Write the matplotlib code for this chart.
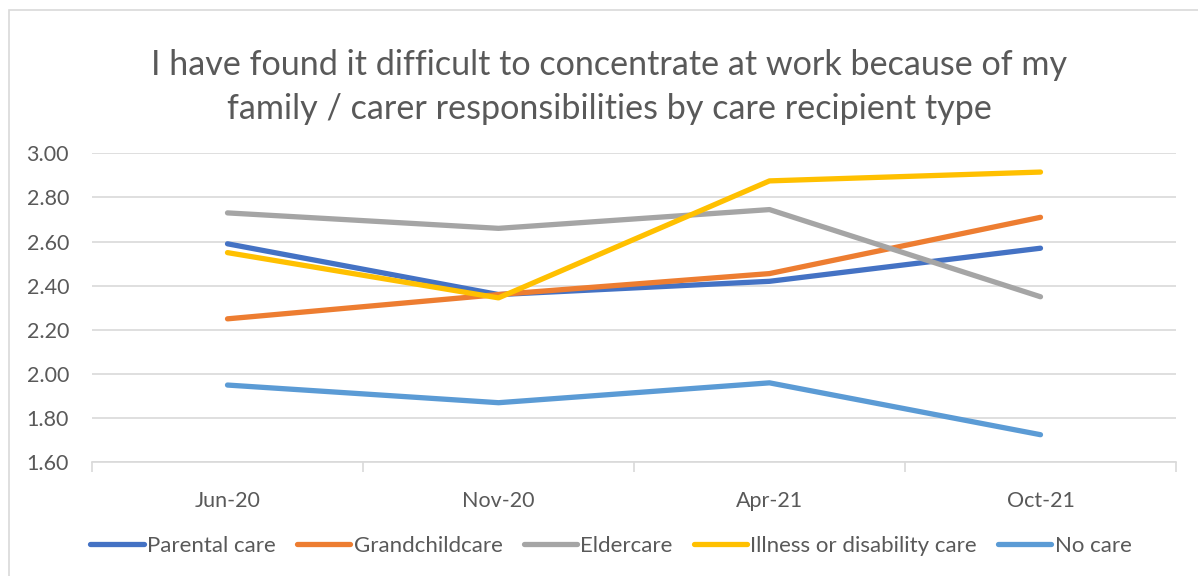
import matplotlib
matplotlib.use("Agg")
import matplotlib.pyplot as plt
from matplotlib.patches import Rectangle
from matplotlib.lines import Line2D

categories = ["Jun-20", "Nov-20", "Apr-21", "Oct-21"]
parental = [2.59, 2.36, 2.42, 2.57]
grandchild = [2.25, 2.36, 2.455, 2.71]
eldercare = [2.73, 2.66, 2.745, 2.35]
illness = [2.55, 2.345, 2.875, 2.915]
nocare = [1.95, 1.87, 1.96, 1.725]
series_names = ["Parental care", "Grandchildcare", "Eldercare",
                "Illness or disability care", "No care"]
yticks = [1.60, 1.80, 2.00, 2.20, 2.40, 2.60, 2.80, 3.00]
title_lines = ["I have found it difficult to concentrate at work because of my",
               "family / carer responsibilities by care recipient type"]

colors = ["#4472C4", "#ED7D31", "#A5A5A5", "#FFC000", "#5B9BD5"]
text_col = "#595959"
grid_col = "#D9D9D9"
font = ["Lato", "DejaVu Sans"]

W, H = 1198, 576
fig = plt.figure(figsize=(W / 100, H / 100), dpi=100)
fig.patch.set_facecolor("white")

# chart border
fig.patches.append(Rectangle((9 / W, -0.1), 1.2, (H - 10) / H + 0.1,
                             transform=fig.transFigure, fill=False,
                             edgecolor=grid_col, lw=1.2))

left, right, top, bottom = 92, 1176, 153.3, 462.3
ax = fig.add_axes([left / W, (H - bottom) / H, (right - left) / W, (bottom - top) / H])
x = list(range(len(categories)))
for vals, c, name in zip([parental, grandchild, eldercare, illness, nocare], colors, series_names):
    ax.plot(x, vals, color=c, lw=3.8, solid_capstyle="round", solid_joinstyle="round", label=name, zorder=3)

ax.set_xlim(-0.5, len(categories) - 0.5)
ax.set_ylim(1.6, 3.0)
ax.set_yticks(yticks)
ax.set_yticklabels([f"{v:.2f}" for v in yticks], fontfamily=font, fontsize=15.5, color=text_col)
ax.set_xticks(x)
ax.set_xticklabels(categories, fontfamily=font, fontsize=15.5, color=text_col)
ax.set_xticks([i - 0.5 for i in range(len(categories) + 1)], minor=True)
ax.tick_params(axis="x", which="major", length=0, pad=21)
ax.tick_params(axis="x", which="minor", length=7, width=1.2, color=grid_col)
ax.tick_params(axis="y", length=0, pad=16.5)
ax.grid(axis="y", color=grid_col, lw=1.2, zorder=0)
for s in ["left", "right", "top"]:
    ax.spines[s].set_visible(False)
ax.spines["bottom"].set_color(grid_col)
ax.spines["bottom"].set_linewidth(1.2)
ax.set_axisbelow(True)

for line, base in zip(title_lines, [75, 119]):
    fig.text(609 / W, (H - base) / H, line, ha="center", va="baseline", fontsize=24.6,
             fontfamily=font, color=text_col)

handles = [Line2D([0], [0], color=c, lw=3.8, solid_capstyle="round") for c in colors]
leg = fig.legend(handles, series_names, loc="center", bbox_to_anchor=(611 / W, (H - 546) / H),
                 ncol=5, frameon=False, handlelength=2.4, handletextpad=0.15,
                 columnspacing=0.95, prop={"family": font, "size": 16})
for t in leg.get_texts():
    t.set_color(text_col)

fig.savefig("out.png", dpi=100)
